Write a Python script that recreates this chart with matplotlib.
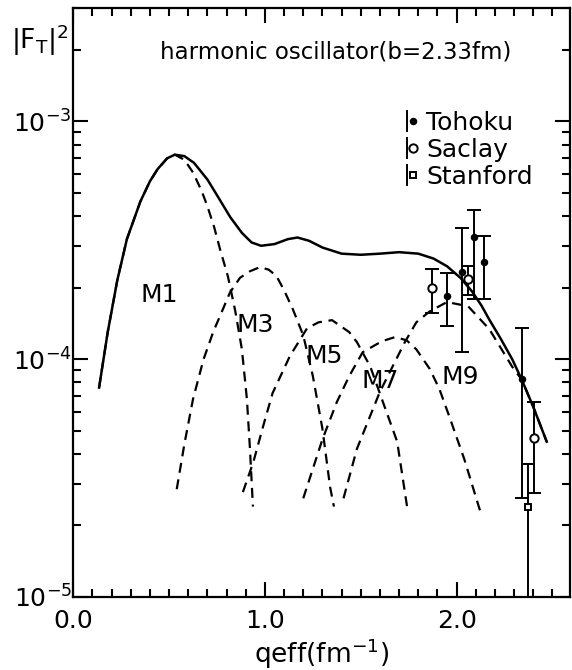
import matplotlib
matplotlib.use("Agg")
import matplotlib.pyplot as plt
from matplotlib.lines import Line2D
from matplotlib.legend_handler import HandlerTuple
from matplotlib.ticker import LogLocator, FixedLocator, MultipleLocator, NullFormatter

plt.rcParams['font.family'] = ['DejaVu Sans']
plt.rcParams['mathtext.fontset'] = 'dejavusans'

# total transverse form factor (harmonic oscillator, b = 2.33 fm)
q_total = [0.135, 0.18, 0.23, 0.28, 0.35, 0.40, 0.44, 0.49, 0.53, 0.58, 0.63, 0.70,
           0.76, 0.82, 0.88, 0.93, 0.98, 1.05, 1.12, 1.17, 1.23, 1.30, 1.40, 1.50,
           1.60, 1.70, 1.80, 1.88, 1.95, 2.02, 2.08, 2.13, 2.17, 2.23, 2.29, 2.34,
           2.40, 2.47]
f_total = [7.6e-5, 1.3e-4, 2.15e-4, 3.2e-4, 4.6e-4, 5.6e-4, 6.3e-4, 7.0e-4, 7.25e-4,
           7.15e-4, 6.7e-4, 5.7e-4, 4.75e-4, 3.95e-4, 3.4e-4, 3.1e-4, 3.0e-4, 3.05e-4,
           3.2e-4, 3.25e-4, 3.15e-4, 2.95e-4, 2.78e-4, 2.75e-4, 2.78e-4, 2.82e-4,
           2.78e-4, 2.65e-4, 2.46e-4, 2.2e-4, 1.93e-4, 1.68e-4, 1.47e-4, 1.22e-4,
           1.0e-4, 8.2e-5, 6.3e-5, 4.5e-5]

# multipole contributions
q_m1 = [0.135, 0.18, 0.23, 0.28, 0.35, 0.40, 0.44, 0.49, 0.53, 0.58, 0.625, 0.67,
        0.70, 0.735, 0.766, 0.807, 0.845, 0.88, 0.906, 0.922, 0.9375]
f_m1 = [7.6e-5, 1.3e-4, 2.15e-4, 3.2e-4, 4.6e-4, 5.6e-4, 6.3e-4, 7.0e-4, 7.25e-4,
        6.9e-4, 6.1e-4, 5.1e-4, 4.4e-4, 3.6e-4, 2.9e-4, 2.23e-4, 1.6e-4, 1.1e-4,
        6.8e-5, 4.2e-5, 2.4e-5]

q_m3 = [0.54, 0.58, 0.625, 0.68, 0.73, 0.818, 0.87, 0.92, 0.974, 1.02, 1.06, 1.10,
        1.146, 1.20, 1.25, 1.30, 1.34, 1.36]
f_m3 = [2.84e-5, 4.4e-5, 6.8e-5, 1.0e-4, 1.3e-4, 1.91e-4, 2.2e-4, 2.34e-4, 2.44e-4,
        2.38e-4, 2.24e-4, 1.95e-4, 1.62e-4, 1.26e-4, 8.5e-5, 5.1e-5, 2.9e-5, 2.4e-5]

q_m5 = [0.885, 0.94, 0.99, 1.04, 1.13, 1.22, 1.28, 1.35, 1.44, 1.48, 1.55, 1.61,
        1.69, 1.745]
f_m5 = [2.76e-5, 3.7e-5, 5.2e-5, 7.2e-5, 1.03e-4, 1.35e-4, 1.43e-4, 1.46e-4, 1.3e-4,
        1.18e-4, 9.3e-5, 6.8e-5, 4.5e-5, 2.3e-5]

q_m7 = [1.20, 1.30, 1.375, 1.44, 1.51, 1.61, 1.68, 1.74, 1.79, 1.86, 1.91, 1.96,
        2.04, 2.13]
f_m7 = [2.6e-5, 4.6e-5, 6.6e-5, 8.5e-5, 1.07e-4, 1.19e-4, 1.24e-4, 1.2e-4, 1.1e-4,
        9.1e-5, 7.5e-5, 5.8e-5, 3.8e-5, 2.2e-5]

q_m9 = [1.41, 1.48, 1.60, 1.73, 1.79, 1.86, 1.95, 2.06, 2.17, 2.29, 2.34, 2.40, 2.47]
f_m9 = [2.6e-5, 4.2e-5, 7.3e-5, 1.18e-4, 1.43e-4, 1.59e-4, 1.74e-4, 1.67e-4, 1.34e-4,
        9.3e-5, 8.2e-5, 6.3e-5, 4.5e-5]

multipole_names = ['M1', 'M3', 'M5', 'M7', 'M9']
label_q = [0.45, 0.95, 1.31, 1.60, 2.02]
label_f = [1.86e-4, 1.39e-4, 1.03e-4, 8.1e-5, 8.4e-5]

# measurements
tohoku_q = [1.95, 2.03, 2.09, 2.145, 2.34]
tohoku_f = [1.84e-4, 2.32e-4, 3.26e-4, 2.56e-4, 8.24e-5]
tohoku_lo = [1.38e-4, 1.07e-4, 1.79e-4, 1.79e-4, 2.6e-5]
tohoku_hi = [2.3e-4, 3.55e-4, 4.26e-4, 3.29e-4, 1.35e-4]

saclay_q = [1.87, 2.06, 2.405]
saclay_f = [1.99e-4, 2.17e-4, 4.66e-5]
saclay_lo = [1.57e-4, 1.86e-4, 2.75e-5]
saclay_hi = [2.39e-4, 2.46e-4, 6.6e-5]

stanford_q = [2.37]
stanford_f = [2.39e-5]
stanford_lo = [5.0e-6]
stanford_hi = [3.63e-5]

x_ticks = [0.0, 1.0, 2.0]
x_ticklabels = ['0.0', '1.0', '2.0']
y_ticks = [1e-5, 1e-4, 1e-3]
y_ticklabels = [r'$\mathregular{10^{-5}}$', r'$\mathregular{10^{-4}}$',
                r'$\mathregular{10^{-3}}$']

fig = plt.figure(figsize=(5.72, 6.70), dpi=100)
ax = fig.add_axes([0.128, 0.109, 0.868, 0.879])

dash = (0, (4.5, 3))
lw_dash = 1.6
ax.plot(q_m1, f_m1, color='k', lw=lw_dash, ls=dash)
ax.plot(q_m3, f_m3, color='k', lw=lw_dash, ls=dash)
ax.plot(q_m5, f_m5, color='k', lw=lw_dash, ls=dash)
ax.plot(q_m7, f_m7, color='k', lw=lw_dash, ls=dash)
ax.plot(q_m9, f_m9, color='k', lw=lw_dash, ls=dash)
ax.plot(q_total, f_total, color='k', lw=1.8, solid_joinstyle='round')

for name, xq, yf in zip(multipole_names, label_q, label_f):
    ax.text(xq, yf, name, fontsize=18, ha='center', va='center')


def draw_points(q, f, lo, hi, marker, filled, ms):
    yerr = [[v - l for v, l in zip(f, lo)], [h - v for v, h in zip(f, hi)]]
    ax.errorbar(q, f, yerr=yerr, fmt=marker, color='k', ms=ms, mew=1.4,
                mfc='k' if filled else 'white', elinewidth=1.4, capsize=5,
                capthick=1.4, zorder=5)


draw_points(tohoku_q, tohoku_f, tohoku_lo, tohoku_hi, 'o', True, 4)
draw_points(saclay_q, saclay_f, saclay_lo, saclay_hi, 'o', False, 6)
draw_points(stanford_q, stanford_f, stanford_lo, stanford_hi, 's', False, 5)

ax.set_yscale('log')
ax.set_xlim(0.0, 2.59)
ax.set_ylim(1e-5, 3e-3)

ax.xaxis.set_major_locator(FixedLocator(x_ticks))
ax.set_xticklabels(x_ticklabels)
ax.xaxis.set_minor_locator(MultipleLocator(0.1))
ax.yaxis.set_major_locator(FixedLocator(y_ticks))
ax.set_yticklabels(y_ticklabels)
ax.yaxis.set_minor_locator(LogLocator(base=10, subs=range(2, 10)))
ax.yaxis.set_minor_formatter(NullFormatter())

ax.tick_params(which='both', direction='in', top=True, right=True, width=1.5,
               labelsize=18, colors='k')
ax.tick_params(which='major', length=11)
ax.tick_params(which='minor', length=6)
ax.tick_params(axis='x', which='major', pad=9)
ax.tick_params(axis='y', which='major', pad=1)
for sp in ax.spines.values():
    sp.set_linewidth(1.6)

ax.set_xlabel(r'qeff(fm$^{-1}$)', fontsize=19, labelpad=2)
fig.text(0.02, 0.94, r'$\mathregular{|F_T|^2}$', fontsize=19, ha='left',
         va='center')

ax.text(0.175, 0.925, 'harmonic oscillator(b=2.33fm)', transform=ax.transAxes,
        fontsize=16.5, ha='left', va='center')

# legend
def entry(marker, filled, ms):
    bar = Line2D([], [], marker='|', ms=16, mew=1.4, ls='none', color='k')
    pt = Line2D([], [], marker=marker, ms=ms, mew=1.4, ls='none', color='k',
                mfc='k' if filled else 'white')
    return (bar, pt)

handles = [entry('o', True, 4), entry('o', False, 6), entry('s', False, 5)]
leg = ax.legend(handles, ['Tohoku', 'Saclay', 'Stanford'],
                handler_map={tuple: HandlerTuple(ndivide=None)},
                loc='upper left', bbox_to_anchor=(0.64, 0.846), frameon=False,
                fontsize=18, handlelength=0.5, handletextpad=0.4,
                labelspacing=0.12, borderpad=0.0)

fig.savefig('out.png', dpi=100)
